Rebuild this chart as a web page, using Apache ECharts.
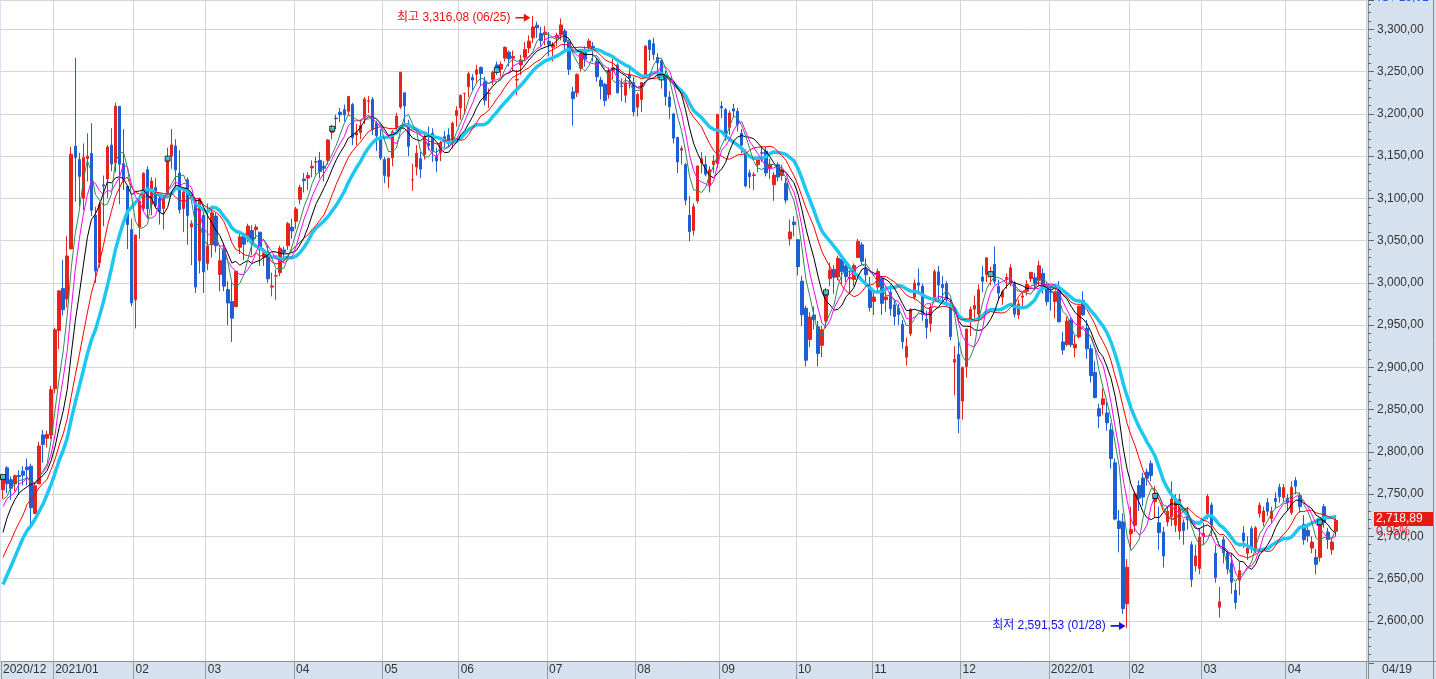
<!DOCTYPE html>
<html><head><meta charset="utf-8">
<script src="https://cdn.jsdelivr.net/npm/echarts@6/dist/echarts.min.js"></script>
<style>html,body{margin:0;padding:0;background:#d6e1ef;overflow:hidden}#c{width:1436px;height:679px}</style>
</head><body><div id="c"></div>
<script>
// ---- Data: KOSPI daily, [open, close, low, high] ----
const closesBefore = [2475.62,2493.87,2543.03,2543.35,2545.64,2547.42,2553.50,2602.59,2617.76,2601.54,2625.91,2633.45,2591.34,2634.25,2672.85,2696.22,2731.45,2745.44,2700.93,2755.47,2746.46];

const ohlc2020_12 = [
[2755,2770.06,2744,2773],[2781,2762.20,2751,2783],[2767,2756.82,2743,2771],[2762,2771.79,2753,2773],
[2772,2770.43,2749,2778],[2777,2772.18,2760,2783],[2782,2778.65,2760,2792],[2783,2733.68,2714,2786],
[2727,2759.82,2727,2763],[2762,2806.86,2762,2812],[2820,2808.60,2787,2826],[2816,2820.51,2805,2825],
[2820,2873.47,2815,2878]];
const ohlc2021_01 = [
[2874.5,2944.45,2869,2946.5],[2943.7,2990.57,2921.8,2990.6],[2993.3,2968.21,2961.4,3027.2],[2980.8,3031.68,2971,3055.3],
[3040.1,3152.18,3040.1,3161.1],[3161.9,3148.45,3096.2,3266.23],[3146,3125.95,3090,3154],[3100,3148.29,3086,3165],
[3147,3149.93,3120,3177],[3153,3085.90,3079,3189],[3080,3013.93,3000,3090],[3024,3092.66,3018,3096],
[3116,3114.55,3067,3127],[3123,3160.84,3100,3163],[3163,3140.63,3132,3183],[3142,3208.99,3131,3213],
[3209,3140.31,3093,3209],[3141,3122.56,3110,3182],[3114,3069.05,3040,3115],[3063,2976.21,2972,3076]];
const ohlc2021_02 = [
[2980,3056.53,2946,3057],[3066,3096.81,3052,3104],[3088,3129.68,3085,3131],[3134,3087.55,3076,3138],
[3093,3120.63,3080,3125],[3113,3091.24,3088,3124],[3100,3084.67,3069,3106],[3088,3100.58,3063,3101],
[3106,3147.00,3104,3160],[3150,3163.25,3135,3182],[3162,3133.73,3112,3170],[3130,3086.66,3082,3157],
[3088,3107.62,3060,3112],[3122,3079.75,3045,3125],[3066,3070.09,3021,3074],[3097,2994.98,2988,3100],
[3026,3099.69,3011,3101],[3080,3012.95,2988,3088]];
const ohlc2021_03 = [
[3023,3043.49,3015,3094],[3045,3082.99,3030,3087],[3079,3043.87,3036,3083],[3010,3026.26,2990,3041],
[3039,2996.11,2990,3047],[2992,2976.12,2950,3002],[2978,2958.12,2930,3001],[2972,3013.70,2971,3014],
[3042,3054.39,3034,3060],[3058,3045.71,3027,3059],[3053,3067.17,3048,3070],[3062,3047.50,3033,3068],
[3063,3066.01,3052,3069],[3060,3039.53,3020,3060],[3030,3035.46,3020,3041],[3036,3004.74,3000,3045],
[2995,2996.35,2984,3012],[3008,3008.33,2980,3016],[3012,3041.01,3008,3044],[3039,3036.04,3025,3043],
[3044,3070.00,3039,3072],[3066,3061.42,3052,3076]];
const ohlc2021_04 = [
[3073,3087.40,3064,3090],[3099,3112.80,3093,3116],[3123,3120.83,3107,3130],[3124,3127.20,3110,3131],
[3136,3137.93,3125,3145],[3143,3143.26,3128,3149],[3145,3131.88,3124,3155],[3138,3135.59,3120,3144],
[3145,3169.08,3140,3170],[3178,3182.38,3170,3187],[3195,3194.33,3182,3199],[3202,3198.84,3190,3207],
[3205,3198.62,3191,3211],[3203,3220.70,3198,3221],[3211,3171.66,3163,3213],[3175,3177.52,3163,3188],
[3178,3186.10,3170,3193],[3196,3217.53,3188,3220],[3215,3215.42,3201,3221],[3217,3181.47,3175,3220],
[3189,3174.07,3156,3192],[3170,3147.86,3145,3182]];
const ohlc2021_05 = [
[3146,3127.20,3118,3149],[3126,3147.37,3112,3148],[3148,3178.74,3138,3181],[3184,3197.20,3176,3201],
[3208,3249.30,3206,3249.3],[3225,3209.43,3187,3225],[3189,3161.66,3150,3193],[3122,3122.11,3109,3141],
[3137,3153.32,3127,3163],[3147,3134.52,3124,3155],[3152,3173.05,3146,3178],[3165,3162.28,3157,3185],
[3177,3156.42,3143,3183],[3150,3144.30,3131,3160],[3154,3165.51,3144,3168],[3173,3168.43,3160,3180],
[3175,3165.51,3161,3183],[3169,3188.73,3159,3191],[3198,3203.92,3185,3209]];
const ohlc2021_06 = [
[3207,3221.87,3193,3223],[3224,3224.23,3199,3225],[3232,3247.43,3220,3250],[3243,3240.08,3228,3247],
[3247,3252.12,3236,3258],[3255,3247.83,3233,3256],[3238,3216.18,3210,3244],[3224,3224.38,3207,3230],
[3241,3249.32,3234,3251],[3258,3252.13,3246,3262],[3253,3258.63,3244,3262],[3266,3278.68,3262,3280],
[3273,3264.96,3256,3275],[3266,3267.93,3251,3275],[3240,3240.79,3222,3252],[3258,3263.88,3246,3270],
[3267,3276.19,3262,3285],[3278,3286.10,3272,3293],[3290,3302.84,3284,3316.08],[3305,3301.89,3290,3309],
[3295,3286.68,3280,3303],[3294,3296.68,3281,3304]];
const ohlc2021_07 = [
[3286,3282.06,3268,3297],[3279,3281.78,3262,3285],[3290,3293.21,3280,3296],[3294,3305.21,3287,3313],
[3298,3285.34,3274,3301],[3285,3252.68,3246,3288],[3226,3217.95,3186,3232],[3225,3246.47,3220,3248],
[3254,3271.38,3250,3274],[3275,3264.81,3256,3280],[3279,3286.22,3273,3289],[3280,3276.91,3262,3285],
[3262,3244.04,3238,3266],[3240,3232.70,3217,3244],[3235,3215.72,3209,3237],[3223,3250.21,3218,3255],
[3251,3254.42,3241,3265],[3258,3224.95,3224,3260],[3233,3232.61,3215,3242],[3222,3236.86,3213,3243],
[3246,3242.65,3230,3256],[3237,3202.32,3197,3244]];
const ohlc2021_08 = [
[3208,3223.04,3197,3225],[3217,3237.14,3202,3237],[3244,3280.38,3244,3281],[3287,3276.13,3263,3288],
[3283,3270.36,3264,3290],[3267,3260.42,3243,3272],[3263,3243.19,3230,3264],[3245,3220.62,3210,3251],
[3220,3208.38,3194,3227],[3200,3171.29,3165,3201],[3172,3143.09,3130,3173],[3157,3158.93,3140,3162],
[3140,3097.83,3092,3142],[3080,3060.51,3049,3103],[3062,3090.21,3056,3094],[3097,3138.30,3094,3139],
[3142,3146.94,3130,3155],[3140,3128.53,3126,3150],[3116,3133.90,3107,3138],[3140,3144.19,3130,3151],
[3141,3199.27,3136,3200]];
const ohlc2021_09 = [
[3209,3207.02,3195,3215],[3205,3175.85,3168,3207],[3184,3201.06,3175,3204],[3206,3203.33,3196,3212],
[3203,3187.42,3179,3207],[3177,3162.99,3153,3182],[3154,3114.70,3113,3158],[3130,3125.76,3112,3134],
[3127,3127.86,3110,3131],[3140,3148.83,3131,3149],[3154,3153.40,3143,3162],[3156,3130.09,3126,3161],
[3136,3140.51,3123,3147],[3116,3127.58,3097,3131],[3140,3125.24,3120,3143],[3127,3133.64,3121,3140],
[3118,3097.92,3094,3124],[3052,3060.27,3044,3075],[3072,3068.82,3055,3079]];
const ohlc2021_10 = [
[3051,3019.18,3009,3052],[3002,2962.17,2949,3008],[2970,2908.31,2901,2973],[2933,2959.46,2924,2965],
[2962,2956.30,2945,2972],[2948,2916.38,2901,2955],[2926,2944.41,2912,2949],[2955,2988.64,2946,2994],
[3005,3015.06,2996,3024],[3016,3006.68,2987,3021],[3007,3029.04,3003,3032],[3028,3013.13,2999,3030],
[3020,3007.33,3001,3028],[3005,3006.16,2988,3015],[3004,3020.54,2996,3023],[3030,3049.08,3030,3052],
[3045,3025.49,3021,3048],[3017,3009.55,2998,3029],[2994,2970.68,2966,3007]];
const ohlc2021_11 = [
[2978,2983.22,2962,2991],[2995,3013.49,2990,3017],[3005,2975.71,2962,3006],[2980,2983.29,2966,2993],
[2989,2969.27,2961,2998],[2974,2960.20,2950,2981],[2970,2962.46,2950,2975],[2951,2930.17,2922,2956],
[2912,2924.92,2902,2935],[2940,2968.80,2937,2970],[2983,2999.52,2980,3004],[3000,2997.21,2990,3017],
[2996,2962.42,2955,2999],[2957,2947.38,2934,2967],[2952,2971.02,2942,2975],[2983,3013.25,2980,3016],
[3013,2997.33,2980,3020],[2998,2994.29,2978,3008],[2999,2980.27,2972,3002],[2972,2936.44,2932,2980],
[2906,2909.32,2867,2925],[2915,2839.01,2822,2932]];
const ohlc2021_12 = [
[2860,2899.72,2838,2901],[2901,2945.27,2888,2946],[2955,2968.33,2937,2972],[2969,2973.25,2958,2985],
[2963,2991.72,2957,2998],[3007,3001.80,2989,3020],[3010,3029.57,3001,3030],[3009,3010.23,2997,3019],
[3022,3001.66,2998,3043],[2996,2987.95,2980,3004],[2983,2989.39,2974,2992],[3004,3006.41,2993,3011],
[3001,3017.74,2996,3022],[3000,2963.00,2959,3002],[2962,2975.03,2957,2980],[2983,2984.48,2970,2990],
[2990,2998.17,2985,3003],[3005,3012.43,3001,3013],[3006,2999.55,2991,3012],[3003,3020.24,2996,3026],
[3011,2993.29,2987,3017],[2995,2977.65,2973,3001]];
const ohlc2022_01 = [
[2990,2988.77,2967,2994],[2978,2989.24,2958,2990],[2991,2953.97,2953,3002],[2930,2920.53,2915,2942],
[2927,2954.89,2925,2960],[2956,2926.72,2924,2959],[2923,2927.38,2912,2937],[2936,2972.48,2934,2973],
[2979,2962.09,2961,2990],[2946,2921.92,2910,2956],[2922,2890.10,2882,2927],[2894,2864.24,2863,2907],
[2851,2842.28,2828,2857],[2856,2862.68,2844,2875],[2846,2834.29,2825,2859],[2826,2792.00,2780,2834],
[2787,2720.39,2719,2792],[2718,2709.24,2681,2731],[2717,2614.49,2608,2727],[2620,2663.34,2591.53,2673]];
const ohlc2022_02 = [
[2703,2707.82,2684,2735],[2713,2750.26,2705,2753],[2760,2745.06,2730,2766],[2769,2746.47,2736,2775],
[2776,2768.85,2760,2780],[2786,2771.93,2765,2790],[2741,2747.71,2722,2760],[2716,2704.48,2684,2735],
[2705,2676.54,2663,2711],[2717,2729.68,2712,2735],[2723,2744.09,2712,2765],[2713,2744.52,2705,2750],
[2706,2743.80,2696,2750],[2716,2706.79,2690,2720],[2727,2719.53,2708,2735],[2690,2648.80,2640,2694],
[2665,2676.76,2658,2690],[2662,2699.18,2655,2710]];
const ohlc2022_03 = [
[2700,2703.52,2690,2716],[2727,2747.08,2720,2750],[2737,2713.43,2700,2740],[2680,2651.31,2645,2690],
[2616,2622.40,2604,2640],[2696,2680.32,2668,2700],[2680,2661.28,2655,2683],[2668,2645.65,2632,2680],
[2636,2621.53,2614,2645],[2648,2659.23,2630,2670],[2704,2694.51,2686,2712],[2680,2686.05,2672,2700],
[2709,2686.16,2680,2712],[2683,2710.00,2680,2712],[2727,2736.80,2722,2740],[2717,2729.98,2712,2735],
[2740,2729.66,2724,2745],[2721,2729.56,2715,2735],[2745,2741.07,2733,2752],[2758,2746.74,2740,2762],
[2746,2757.65,2741,2762]];
const ohlc2022_04 = [
[2745,2739.85,2730,2750],[2728,2757.90,2725,2765],[2766,2759.20,2750,2770],[2748,2735.03,2728,2752],
[2714,2695.86,2690,2725],[2707,2700.39,2693,2712],[2686,2693.10,2680,2700],[2675,2666.76,2655,2685],
[2675,2716.49,2670,2718],[2735,2716.71,2710,2738],[2705,2696.06,2685,2710],[2684,2693.21,2678,2697],
[2706,2718.89,2700,2725]];

const holidays = ['2020-12-25','2020-12-31','2021-01-01','2021-02-11','2021-02-12','2021-03-01','2021-05-05',
'2021-05-19','2021-08-16','2021-09-20','2021-09-21','2021-09-22','2021-10-04','2021-10-11','2021-12-31',
'2022-01-31','2022-02-01','2022-02-02','2022-03-01','2022-03-09'];
const firstDay = '2020-12-11', lastDay = '2022-04-19';
const emptySlots = 7;
const maPeriods = [20, 15, 10, 7, 5];
const maColors = ['#1ec6f2', '#ff0000', '#000000', '#ff00ff', '#2e8b57'];
const markerEvery = 41;

// ---- build ----
function tradingDays(a, b) {
  const out = []; const hs = new Set(holidays);
  let d = new Date(a + 'T00:00:00Z'); const e = new Date(b + 'T00:00:00Z');
  while (d <= e) {
    const wd = d.getUTCDay(); const s = d.toISOString().slice(0, 10);
    if (wd !== 0 && wd !== 6 && !hs.has(s)) out.push(s);
    d = new Date(d.getTime() + 86400000);
  }
  return out;
}
const dates = tradingDays(firstDay, lastDay);
const ohlc = [].concat(ohlc2020_12, ohlc2021_01, ohlc2021_02, ohlc2021_03, ohlc2021_04, ohlc2021_05, ohlc2021_06,
  ohlc2021_07, ohlc2021_08, ohlc2021_09, ohlc2021_10, ohlc2021_11, ohlc2021_12, ohlc2022_01, ohlc2022_02, ohlc2022_03, ohlc2022_04);
if (dates.length !== ohlc.length) console.error('length mismatch', dates.length, ohlc.length);
const cats = dates.concat(Array.from({length: emptySlots}, (_, k) => '_' + k));
const closes = ohlc.map(d => d[1]);
const allC = closesBefore.concat(closes);
function ma(n) {
  return closes.map((c, i) => { const k = i + closesBefore.length; let s = 0; for (let j = k - n + 1; j <= k; j++) s += allC[j]; return +(s / n).toFixed(2); });
}
const isStart = cats.map((c, i) => i < dates.length && (i === 0 || c.slice(0, 7) !== cats[i - 1].slice(0, 7)));
const labelTxt = cats.map((c, i) => {
  if (!isStart[i]) return '';
  const y = c.slice(0, 4), m = c.slice(5, 7);
  return (i === 0 || m === '01') ? y + '/' + m : m;
});
function fmt(v) {
  const s = v.toFixed(2).split('.');
  return s[0].replace(/\B(?=(\d{3})+(?!\d))/g, ',') + ',' + s[1];
}
let hiIdx = 0, loIdx = 0;
ohlc.forEach((d, i) => { if (d[3] > ohlc[hiIdx][3]) hiIdx = i; if (d[2] < ohlc[loIdx][2]) loIdx = i; });
const md = s => s.slice(5, 7) + '/' + s.slice(8, 10);
const FONT = '"Liberation Sans", "Noto Sans CJK KR", sans-serif';
const BAND = '#d6e1ef';
const markers = [];
for (let i = 0; i < closes.length; i += markerEvery) markers.push([i, closes[i]]);
const arrow = 'path://M0,4 L10,4 L10,0 L18,5 L10,10 L10,6 L0,6 Z';

const chart = echarts.init(document.getElementById('c'), null, {renderer: 'canvas'});
const series = [{
  type: 'candlestick', data: ohlc, barWidth: 3, z: 4, silent: true,
  itemStyle: {color: '#e8231c', color0: '#1f5fd6', borderColor: '#e8231c', borderColor0: '#1f5fd6', borderWidth: 1},
  markPoint: {
    silent: true, animation: false,
    data: [
      {coord: [hiIdx, ohlc[hiIdx][3]], symbol: arrow, symbolSize: [15, 8], symbolOffset: [-10, 2],
       itemStyle: {color: '#ee1111'},
       label: {show: true, position: 'left', distance: 5, color: '#ee1111', fontSize: 12, fontFamily: FONT,
         formatter: '최고 ' + fmt(ohlc[hiIdx][3]) + ' (' + md(dates[hiIdx]) + ')'}},
      {coord: [loIdx, ohlc[loIdx][2]], symbol: arrow, symbolSize: [15, 8], symbolOffset: [-9, -2],
       itemStyle: {color: '#1414e6'},
       label: {show: true, position: 'left', distance: 5, color: '#1414e6', fontSize: 12, fontFamily: FONT,
         formatter: '최저 ' + fmt(ohlc[loIdx][2]) + ' (' + md(dates[loIdx]) + ')'}}
    ]
  }
}];
maPeriods.forEach((p, k) => series.push({
  type: 'line', data: ma(p), showSymbol: false, silent: true, z: 5 + k, smooth: false,
  lineStyle: {width: p === 20 ? 3.5 : 1, color: maColors[k]}
}));
series.push({type: 'scatter', data: markers, symbol: 'rect', symbolSize: 5, z: 11, silent: true,
  itemStyle: {color: '#20d8f0', borderColor: '#000', borderWidth: 1}});

chart.setOption({
  animation: false,
  backgroundColor: BAND,
  grid: {left: 0, right: 70, top: 0, bottom: 16, show: true, backgroundColor: '#ffffff', borderWidth: 0},
  xAxis: {
    type: 'category', data: cats, boundaryGap: true, offset: -2, z: 3,
    axisLine: {lineStyle: {color: '#8c8c8c'}},
    axisTick: {show: true, interval: i => isStart[i], length: 18, lineStyle: {color: '#9a9a9a'}},
    axisLabel: {interval: i => isStart[i], formatter: (v, i) => labelTxt[i], align: 'left', margin: 3,
      color: '#333', fontSize: 12, fontFamily: FONT},
    splitLine: {show: true, interval: i => isStart[i] && i > 0, lineStyle: {color: '#d4d4d4'}}
  },
  yAxis: {
    type: 'value', position: 'right', min: 2550, max: 3334.8, interval: 50, offset: 2, scale: true,
    axisLine: {show: true, lineStyle: {color: '#8c8c8c'}},
    axisTick: {show: true, length: 6, lineStyle: {color: '#666'}},
    minorTick: {show: true, splitNumber: 5, length: 3, lineStyle: {color: '#666'}},
    axisLabel: {margin: 9, color: '#333', fontSize: 12, fontFamily: FONT,
      formatter: v => (v >= 2600 && v <= 3300 && Math.abs(v % 50) < 1e-6) ? fmt(v) : ''},
    splitLine: {show: true, lineStyle: {color: '#d4d4d4'}}
  },
  series: series
});

const last = closes[closes.length - 1], prev = closes[closes.length - 2];
const py = chart.convertToPixel({yAxisIndex: 0}, last);
const pct = ((last / prev - 1) * 100).toFixed(2).replace('.', ',') + '%';
chart.setOption({graphic: [
  {type: 'rect', shape: {x: 0, y: 661, width: 1368, height: 3}, style: {fill: BAND}, z: 1},
  {type: 'line', shape: {x1: 1368.5, y1: 661, x2: 1368.5, y2: 679}, style: {stroke: '#8c8c8c'}, z: 12},
  {type: 'line', shape: {x1: 1366, y1: 661.5, x2: 1436, y2: 661.5}, style: {stroke: '#8c8c8c'}, z: 12},
  {type: 'line', shape: {x1: 1433.5, y1: 0, x2: 1433.5, y2: 679}, style: {stroke: '#8c8c8c'}, z: 12},
  {type: 'text', left: 1382, top: 664, style: {text: md(dates[dates.length - 1]), fill: '#333', font: '12px ' + FONT}, z: 12},
  {type: 'text', left: 1372, top: -8, style: {text: 'HC↑ 16,01', fill: '#1e5adc', font: '12px ' + FONT}, z: 12},
  {type: 'rect', shape: {x: 1374, y: Math.round(py) - 8, width: 59, height: 14}, style: {fill: '#e31b12'}, z: 12},
  {type: 'text', x: 1376, y: Math.round(py) - 7, z: 13, style: {text: fmt(last), fill: '#fff', font: '12px ' + FONT}},
  {type: 'text', x: 1376, y: Math.round(py) + 6, z: 13, style: {text: pct, fill: '#f01010', font: '12px ' + FONT}}
]});
</script></body></html>
